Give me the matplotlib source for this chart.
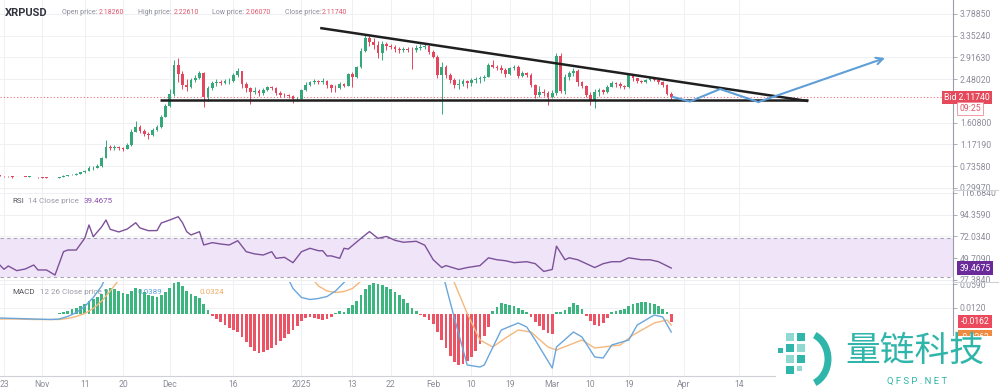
import pandas as pd
import matplotlib
matplotlib.use("Agg")
import matplotlib.pyplot as plt
from matplotlib.patches import Arc
from matplotlib.lines import Line2D
from matplotlib.transforms import Bbox, TransformedBbox, blended_transform_factory

plt.rcParams['font.family'] = ['Roboto', 'DejaVu Sans']

W, H = 999, 392

# ---- daily XRPUSD candles, 2024-10-22 .. 2025-03-29 ----
first_day = '2024-10-22'
first_open = 0.548
closes = [0.540, 0.530, 0.526, 0.512, 0.515, 0.521, 0.518, 0.522, 0.516, 0.508,
          0.505, 0.500, 0.496, 0.498, 0.512, 0.540, 0.552, 0.562, 0.585, 0.610,
          0.640, 0.690, 0.700, 0.730, 0.900, 1.120, 1.100, 1.120, 1.090, 1.080,
          1.150, 1.420, 1.520, 1.440, 1.380, 1.350, 1.460, 1.510, 1.730, 1.950,
          2.180, 2.760, 2.580, 2.360, 2.320, 2.460, 2.510, 2.600, 2.120, 2.300,
          2.400, 2.430, 2.410, 2.440, 2.450, 2.560, 2.640, 2.380, 2.300, 2.220,
          2.240, 2.200, 2.270, 2.320, 2.300, 2.200, 2.170, 2.160, 2.150, 2.080,
          2.090, 2.260, 2.360, 2.420, 2.450, 2.420, 2.440, 2.360, 2.310, 2.300,
          2.390, 2.350, 2.580, 2.520, 2.720, 3.050, 3.300, 3.220, 3.170, 3.010,
          3.180, 3.150, 3.130, 3.080, 3.060, 3.090, 3.070, 3.060, 3.110, 3.130,
          3.150, 3.030, 2.930, 2.560, 2.720, 2.560, 2.460, 2.360, 2.380, 2.440,
          2.400, 2.460, 2.490, 2.500, 2.530, 2.770, 2.730, 2.710, 2.660, 2.580,
          2.700, 2.730, 2.540, 2.600, 2.560, 2.360, 2.170, 2.230, 2.210, 2.130,
          2.210, 2.950, 2.250, 2.520, 2.600, 2.640, 2.420, 2.340, 2.170, 2.040,
          2.230, 2.270, 2.230, 2.330, 2.400, 2.380, 2.350, 2.320, 2.560, 2.500,
          2.440, 2.430, 2.460, 2.500, 2.470, 2.420, 2.360, 2.1826, 2.1174]
highs = [0.552, 0.545, 0.535, 0.530, 0.520, 0.525, 0.524, 0.530, 0.525, 0.520,
         0.512, 0.508, 0.503, 0.505, 0.520, 0.550, 0.560, 0.570, 0.595, 0.625,
         0.660, 0.730, 0.745, 0.770, 0.920, 1.250, 1.160, 1.150, 1.140, 1.120,
         1.190, 1.480, 1.630, 1.560, 1.480, 1.420, 1.490, 1.560, 1.760, 1.980,
         2.280, 2.860, 2.910, 2.640, 2.480, 2.500, 2.560, 2.650, 2.620, 2.350,
         2.450, 2.480, 2.470, 2.480, 2.500, 2.600, 2.710, 2.640, 2.420, 2.320,
         2.330, 2.280, 2.300, 2.350, 2.340, 2.320, 2.240, 2.210, 2.190, 2.170,
         2.130, 2.290, 2.420, 2.450, 2.480, 2.470, 2.500, 2.460, 2.380, 2.360,
         2.420, 2.410, 2.600, 2.620, 2.750, 3.100, 3.380, 3.360, 3.300, 3.250,
         3.250, 3.220, 3.190, 3.170, 3.120, 3.130, 3.120, 3.130, 3.160, 3.180,
         3.190, 3.170, 3.070, 2.960, 2.820, 2.760, 2.600, 2.500, 2.480, 2.480,
         2.470, 2.500, 2.530, 2.540, 2.570, 2.800, 2.860, 2.770, 2.760, 2.700,
         2.730, 2.760, 2.760, 2.640, 2.620, 2.600, 2.380, 2.350, 2.280, 2.240,
         2.260, 3.010, 3.000, 2.580, 2.640, 2.700, 2.680, 2.450, 2.360, 2.220,
         2.280, 2.310, 2.290, 2.370, 2.440, 2.430, 2.420, 2.370, 2.590, 2.570,
         2.510, 2.470, 2.480, 2.530, 2.520, 2.490, 2.440, 2.380, 2.2261]
lows = [0.535, 0.522, 0.520, 0.505, 0.508, 0.512, 0.510, 0.515, 0.512, 0.500,
        0.495, 0.494, 0.488, 0.490, 0.495, 0.510, 0.535, 0.548, 0.560, 0.580,
        0.600, 0.630, 0.660, 0.690, 0.720, 0.890, 1.050, 1.050, 1.060, 1.040,
        1.070, 1.140, 1.420, 1.400, 1.340, 1.270, 1.330, 1.440, 1.500, 1.720,
        1.930, 2.150, 2.430, 2.280, 2.250, 2.300, 2.430, 2.480, 1.920, 2.050,
        2.270, 2.350, 2.360, 2.380, 2.390, 2.420, 2.520, 2.300, 2.230, 1.980,
        2.180, 2.150, 2.170, 2.240, 2.260, 2.160, 2.120, 2.120, 2.100, 2.010,
        2.050, 2.070, 2.240, 2.340, 2.390, 2.380, 2.390, 2.300, 2.230, 2.220,
        2.280, 2.320, 2.340, 2.330, 2.510, 2.700, 3.020, 3.150, 3.080, 2.900,
        2.860, 3.060, 3.080, 3.020, 3.010, 3.030, 3.020, 2.680, 3.020, 3.070,
        3.090, 2.990, 2.900, 2.500, 1.780, 2.500, 2.400, 2.300, 2.280, 2.340,
        2.300, 2.340, 2.410, 2.400, 2.440, 2.520, 2.700, 2.660, 2.610, 2.520,
        2.560, 2.660, 2.500, 2.520, 2.520, 2.320, 2.100, 2.130, 2.140, 1.970,
        2.110, 2.160, 2.200, 2.180, 2.470, 2.550, 2.350, 2.300, 2.120, 1.970,
        1.900, 2.150, 2.190, 2.210, 2.320, 2.330, 2.300, 2.280, 2.300, 2.450,
        2.400, 2.400, 2.410, 2.440, 2.440, 2.390, 2.330, 2.160, 2.0607]

# RSI 14 (day offset from 2024-10-23, value)
rsi_days = [-1, 0, 1, 3, 5, 7, 8, 10, 12, 14, 15, 17, 19, 20, 21, 23, 24, 25, 26, 27,
            29, 31, 32, 34, 35, 36, 37, 39, 41, 42, 43, 44, 46, 47, 49, 51, 53, 55, 57, 59,
            61, 63, 64, 66, 68, 70, 72, 74, 75, 76, 77, 79, 80, 81, 84, 86, 88, 90, 92, 94,
            97, 99, 101, 103, 104, 107, 109, 112, 114, 116, 118, 120, 123, 125, 127, 129, 130, 132, 133, 135,
            137, 139, 141, 143, 145, 147, 150, 152, 154, 157]
rsi_vals = [42.6, 38.2, 41.6, 36.8, 38.5, 42.6, 37.5, 37.5, 32.3, 56.3, 58.0, 58.0, 70.1, 83.8, 71.7, 82.0, 88.9, 79.3, 78.0, 76.6,
            79.6, 86.1, 80.7, 77.9, 78.0, 78.0, 85.8, 88.9, 92.3, 86.1, 76.9, 73.5, 76.9, 63.2, 65.6, 64.2, 63.2, 67.6, 56.3, 54.0,
            52.9, 56.3, 49.5, 50.5, 45.0, 56.3, 59.8, 57.3, 57.3, 51.9, 52.0, 49.5, 59.8, 59.0, 70.0, 77.0, 70.0, 72.0, 68.0, 66.0,
            67.0, 63.0, 48.0, 40.0, 42.0, 38.0, 40.0, 42.0, 50.0, 48.0, 47.0, 45.0, 46.0, 44.0, 36.0, 38.0, 62.0, 48.0, 50.0, 48.0,
            44.0, 40.0, 44.0, 46.0, 46.0, 50.0, 48.0, 48.0, 46.0, 39.4675]

# MACD 12 26 9 (x1000)
macd_days = [-1, 3, 7, 11, 13, 15, 17, 19, 21, 23, 25, 30, 40, 50, 60, 64, 66, 68, 70, 72,
             74, 76, 78, 80, 82, 86, 95, 100, 103, 106, 109, 112, 113, 117, 121, 123, 125, 129, 130, 134,
             136, 139, 141, 143, 147, 149, 153, 155, 157]
macd_vals = [-9, -10, -11, -12, -11, -6, 2, 14, 32, 55, 95, 150, 260, 330, 220, 130, 85, 50, 32, 28,
             30, 34, 45, 62, 80, 140, 220, 180, 87, -10, -103, -107, -103, -33, -19, -27, -53, -109, -67, -37,
             -47, -87, -89, -63, -53, -23, -3, -7, -37]
signal_days = [-1, 3, 7, 11, 13, 15, 17, 19, 21, 23, 25, 30, 40, 50, 60, 66, 70, 72, 74, 76,
               78, 80, 82, 86, 95, 100, 103, 106, 109, 112, 115, 118, 121, 124, 128, 130, 136, 139, 145, 148,
               153, 156, 157]
signal_vals = [-11, -11, -12, -12, -12, -10, -6, 0, 10, 25, 45, 100, 200, 300, 280, 180, 100, 75, 55, 45,
               42, 44, 50, 80, 160, 170, 120, 61, 0, -53, -67, -49, -33, -37, -67, -73, -53, -69, -63, -43,
               -19, -13, -23]
hist_vals = [-1, -1, -1, -1, -1, -1, -1, -1, -1, 0, 0, 0, 0, 0, 1,
             3, 6, 9, 12, 16, 20, 26, 30, 33, 40, 50, 52, 50, 46, 42, 40, 46, 52, 50, 44,
             38, 36, 34, 38, 44, 52, 62, 64, 56, 46, 40, 36, 32,
             20, 8, -4, -10, -16, -22, -28, -32, -36, -46, -56, -66, -74, -78, -76, -72, -68, -62,
             -55, -48, -40, -32, -24,
             -14, -8, -6, -8, -10, -12, -10, -6, 2, 6, 4, 12, 18, 26, 38, 50, 58, 62, 60, 58,
             54, 50, 44, 38, 30, 22, 12, 6, -2, -6, -12,
             -20, -36, -52, -68, -84, -96, -103, -100, -95, -86,
             -74, -60, -44, -26, 6, 14, 22, 20, 18, 16,
             12, 8, 4, -6, -16, -24, -32, -38, -40, 3,
             4, 8, 14, 22, 18, 10, -4, -14, -22, -24,
             -18, -8, 4, 6, 8, 10, 16, 20, 22, 24,
             23, 22, 20, 16, 10, 4, -16.2]

price_ticks = [0.2997, 0.7358, 1.1719, 1.6080, 2.4802, 2.9163, 3.3524, 3.7885]
rsi_ticks = [27.384, 49.709, 72.034, 94.359, 116.684]
macd_ticks = [0.0590, 0.0120]

xtick_dates = ['2024-10-23', '2024-11-01', '2024-11-11', '2024-11-20', '2024-12-01', '2024-12-16',
               '2025-01-01', '2025-01-13', '2025-01-22', '2025-02-01', '2025-02-10', '2025-02-19',
               '2025-03-01', '2025-03-10', '2025-03-19', '2025-04-01', '2025-04-14']
xtick_labels = ['23', 'Nov', '11', '20', 'Dec', '16', '2025', '13', '22', 'Feb', '10', '19',
                'Mar', '10', '19', 'Apr', '14']

# drawn lines: (day, price)
resistance = ([74.4, 189.2], [3.507, 2.04])
support = ([36.7, 189.2], [2.06, 2.06])
path_days = [157.4, 161.4, 168.5, 177.5, 207.3]
path_prices = [2.122, 2.031, 2.282, 2.021, 2.905]
bid = 2.1174

origin = pd.Timestamp('2024-10-23')
start = (pd.Timestamp(first_day) - origin).days
days = list(range(start, start + len(closes)))
opens = [first_open] + closes[:-1]
xticks = [(pd.Timestamp(d) - origin).days for d in xtick_dates]

UP, DOWN = '#35a879', '#e4465d'
GRID = '#eef0f4'
TICKC = '#8c8c9a'
TEAL = '#2fb5a9'
XLIM = (-0.94, 223.3)


def fy(py):
    return 1 - py / H


fig = plt.figure(figsize=(W / 100, H / 100), dpi=100)
ax_main = fig.add_axes([0, fy(190), 953 / W, 190 / H])
ax_rsi = fig.add_axes([0, fy(282), 953 / W, 92 / H])
ax_macd = fig.add_axes([0, fy(376), 953 / W, 94 / H])
panels = [(ax_main, 0, 190), (ax_rsi, 190, 282), (ax_macd, 282, 376)]

for ax, top, bot in panels:
    ax.set_xlim(*XLIM)
    ax.set_xticks(xticks)
    ax.yaxis.tick_right()
    ax.tick_params(axis='y', length=3, width=0.6, color='#a0a0ae', labelsize=6.2,
                   labelcolor=TICKC, pad=2)
    ax.tick_params(axis='x', length=0, labelsize=6.2, labelcolor=TICKC, pad=3)
    ax.grid(True, color=GRID, lw=0.7, zorder=0)
    ax.set_axisbelow(True)
    for s in ['left', 'top']:
        ax.spines[s].set_visible(False)
    ax.spines['right'].set_color('#9c9cab')
    ax.spines['right'].set_linewidth(0.8)
    ax.spines['bottom'].set_color('#cfd1d8')
    ax.spines['bottom'].set_linewidth(0.8)

# panel separators run on under the price scale
for py in (190, 282):
    fig.add_artist(Line2D([953 / W, 1], [fy(py), fy(py)], color='#cfd1d8', lw=0.8))

ax_main.set_xticklabels([])
ax_rsi.set_xticklabels([])
ax_macd.set_xticklabels(xtick_labels)

# ---- price panel ----
ax_main.set_ylim(0.2544, 4.0696)
ax_main.set_yticks(price_ticks)
ax_main.set_yticklabels(['%.5f' % v for v in price_ticks])

colors = [UP if c >= o else DOWN for o, c in zip(opens, closes)]
ax_main.vlines(days, lows, highs, colors=colors, lw=0.7, zorder=3)
ax_main.bar(days, [max(abs(c - o), 0.008) for o, c in zip(opens, closes)],
            bottom=[min(o, c) for o, c in zip(opens, closes)],
            width=0.62, color=colors, zorder=3)

ax_main.axhline(bid, color='#e8707e', ls=(0, (1, 2)), lw=0.8, zorder=2)
ax_main.plot(*resistance, color='#1f1f1f', lw=1.8, zorder=4, solid_capstyle='butt')
ax_main.plot(*support, color='#1f1f1f', lw=1.8, zorder=4, solid_capstyle='butt')
ax_main.plot(path_days[:-1], path_prices[:-1], color='#5f9fd8', lw=1.5, zorder=5)
ax_main.annotate('', xy=(path_days[-1], path_prices[-1]), xytext=(path_days[-2], path_prices[-2]),
                 arrowprops=dict(arrowstyle='->', color='#5f9fd8', lw=1.5, mutation_scale=12,
                                 shrinkA=0, shrinkB=0), zorder=5)

# header
fig.text(5 / W, fy(13), 'XRPUSD', fontsize=8, fontweight='bold', color='#333340', va='center')
head = [('Open price:', 62, '2.18260', 99), ('High price:', 138, '2.22610', 174),
        ('Low price:', 212, '2.06070', 246), ('Close price:', 285, '2.11740', 322)]
for name, px, val, vx in head:
    fig.text(px / W, fy(13), name, fontsize=5.0, color='#8c8c9a', va='center')
    fig.text(vx / W, fy(13), val, fontsize=5.0, color='#e4566c', va='center')

# bid label
tr_main = blended_transform_factory(fig.transFigure, ax_main.transData)
ax_main.text(967 / W, bid, 'Bid 2.11740', transform=tr_main, ha='center', va='center',
             fontsize=6.2, color='white', zorder=10, clip_on=False,
             bbox=dict(boxstyle='square,pad=0.25', fc='#e44a5c', ec='none'))
fig.text(970 / W, fy(108.5), '09:25', ha='center', va='center', fontsize=6.2, color='#e4566c',
         bbox=dict(boxstyle='square,pad=0.2', fc='white', ec='#f08a98', lw=0.6))

# ---- RSI panel ----
ax_rsi.set_ylim(25.12, 119.77)
ax_rsi.set_yticks(rsi_ticks)
ax_rsi.set_yticklabels(['%.4f' % v for v in rsi_ticks])
ax_rsi.axhspan(30, 70, color='#efe4f8', zorder=1, lw=0)
ax_rsi.axhline(70, color='#a4a4b4', lw=0.8, ls=(0, (3, 3)), zorder=2)
ax_rsi.axhline(30, color='#a4a4b4', lw=0.8, ls=(0, (3, 3)), zorder=2)
ax_rsi.plot(rsi_days, rsi_vals, color='#7d5199', lw=1.0, zorder=3)
ax_rsi.text(12 / 953, 0.88, 'RSI', transform=ax_rsi.transAxes, fontsize=5.8, color='#555560', va='center')
ax_rsi.text(28 / 953, 0.88, '14 Close price', transform=ax_rsi.transAxes, fontsize=5.8, color='#9a9aa8', va='center')
ax_rsi.text(84 / 953, 0.88, '39.4675', transform=ax_rsi.transAxes, fontsize=5.8, color='#8a4fb0', va='center')
tr_rsi = blended_transform_factory(fig.transFigure, ax_rsi.transData)
ax_rsi.text(975 / W, rsi_vals[-1], '39.4675', transform=tr_rsi, ha='center', va='center',
            fontsize=6.2, color='white', zorder=10, clip_on=False,
            bbox=dict(boxstyle='square,pad=0.25', fc='#6a2a9a', ec='none'))

# ---- MACD panel ----
ax_macd.set_ylim(-0.125, 0.063)
ax_macd.set_yticks(macd_ticks)
ax_macd.set_yticklabels(['%.4f' % v for v in macd_ticks])
ax_macd.text(12 / 953, 0.89, 'MACD', transform=ax_macd.transAxes, fontsize=5.8, color='#555560', va='center', zorder=1)
ax_macd.text(40 / 953, 0.89, '12 26 Close price 9', transform=ax_macd.transAxes, fontsize=5.8, color='#9a9aa8',
             va='center', zorder=1)
ax_macd.text(138 / 953, 0.89, '0.0389', transform=ax_macd.transAxes, fontsize=5.8, color='#5f9fd8', va='center', zorder=1)
ax_macd.text(200 / 953, 0.89, '0.0324', transform=ax_macd.transAxes, fontsize=5.8, color='#f0a860', va='center', zorder=1)
hist = [h / 1000 for h in hist_vals]
ax_macd.bar(days, hist, width=0.62, color=['#3db57f' if h >= 0 else '#ec5466' for h in hist], zorder=2)
ax_macd.plot(signal_days, [v / 1000 for v in signal_vals], color='#f4b87c', lw=1.0, zorder=3)
ax_macd.plot(macd_days, [v / 1000 for v in macd_vals], color='#6aa6dc', lw=1.0, zorder=4)
tr_macd = blended_transform_factory(fig.transFigure, ax_macd.transData)
ax_macd.text(975 / W, hist[-1], '-0.0162', transform=tr_macd, ha='center', va='center',
             fontsize=6.2, color='white', zorder=10, clip_on=False,
             bbox=dict(boxstyle='square,pad=0.25', fc='#ec4a5c', ec='none'))
fig.text(975 / W, fy(337), '-0.0263', ha='center', va='center', fontsize=6.2, color='white',
         bbox=dict(boxstyle='square,pad=0.25', fc='#f08a40', ec='none'))
ax_macd.text(488, -0.112, 'LiteFinance', fontsize=3.6, color='#6bb84a', ha='left', va='center', zorder=6)

# clip right-hand tick labels to their own panel band
for ax, top, bot in panels:
    clip = TransformedBbox(Bbox([[0, fy(bot)], [1, fy(top)]]), fig.transFigure)
    for lab in ax.get_yticklabels():
        lab.set_clip_on(True)
        lab.set_clip_box(clip)

# ---- watermark ----
fig.patches.append(plt.Rectangle((776 / W, 0), 1 - 776 / W, fy(336), transform=fig.transFigure,
                                 fc='white', ec='none', zorder=20))
fig.text(915 / W, fy(351), '量链科技', fontsize=25, color=TEAL, ha='center', va='center',
         family=['Noto Sans CJK SC', 'DejaVu Sans'], zorder=21)
fig.text(917 / W, fy(381), 'Q F S P . N E T', fontsize=6.8, color=TEAL, ha='center', va='center', zorder=21)
for (px, py, s, c) in [(786, 333, 8, '#8fd9d1'), (797, 333, 8, TEAL), (786, 344, 8, TEAL),
                       (797, 344, 8, '#8fd9d1'), (786, 355, 8, '#8fd9d1'), (778, 348, 5, TEAL),
                       (797, 355, 8, TEAL), (786, 366, 8, TEAL), (797, 366, 5, '#8fd9d1')]:
    fig.patches.append(plt.Rectangle((px / W, fy(py + s)), s / W, s / H, transform=fig.transFigure,
                                     fc=c, ec='none', zorder=21))
logo_ax = fig.add_axes([778 / W, fy(390), 60 / W, 62 / H], zorder=22)
logo_ax.set_xlim(0, 60)
logo_ax.set_ylim(0, 62)
logo_ax.axis('off')
logo_ax.add_patch(Arc((28, 31), 44, 52, theta1=-70, theta2=70, color=TEAL, lw=5))

fig.savefig('out.png', dpi=100)
